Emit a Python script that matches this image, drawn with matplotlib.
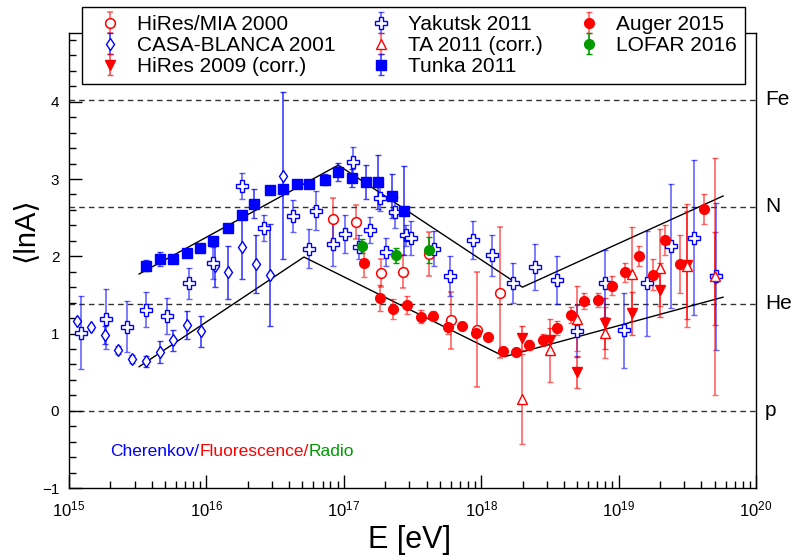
import numpy as np
import matplotlib
matplotlib.use("Agg")
import matplotlib.pyplot as plt
from matplotlib.ticker import MultipleLocator, LogLocator, NullFormatter

plt.rcParams['font.family'] = ['Liberation Sans', 'DejaVu Sans']
plt.rcParams['mathtext.fontset'] = 'custom'
plt.rcParams['mathtext.rm'] = 'Liberation Sans'
plt.rcParams['mathtext.it'] = 'Liberation Sans:italic'

# values, energies as log10(E/eV)
hiresmia_lgE = [16.92, 17.09, 17.27, 17.43, 17.62, 17.78, 17.97, 18.14]
hiresmia_lnA = [2.48, 2.44, 1.78, 1.80, 2.03, 1.17, 1.05, 1.53]
hiresmia_err = [0.28, 0.22, 0.18, 0.21, 0.29, 0.37, 0.74, 0.85]

casa_lgE = [15.06, 15.16, 15.26, 15.36, 15.46, 15.56, 15.66, 15.76,
            15.86, 15.96, 16.06, 16.16, 16.26, 16.36, 16.46, 16.56]
casa_lnA = [1.16, 1.08, 0.98, 0.79, 0.67, 0.64, 0.76, 0.91,
            1.11, 1.03, 1.87, 1.79, 2.12, 1.90, 1.76, 3.04]
casa_err = [0.03, 0.03, 0.12, 0.05, 0.05, 0.07, 0.14, 0.14,
            0.18, 0.20, 0.27, 0.34, 0.42, 0.38, 0.66, 1.08]

hires09_lgE = [18.30, 18.50, 18.70, 18.90, 19.10, 19.30, 19.50, 19.70]
hires09_lnA = [0.94, 0.92, 0.50, 1.13, 1.26, 1.56, 1.89, 1.71]
hires09_err = [0.16, 0.15, 0.21, 0.33, 0.28, 0.35, 0.70, 0.60]

yak_lgE = [15.09, 15.27, 15.42, 15.56, 15.71, 15.87, 16.05, 16.26, 16.42,
           16.63, 16.75, 16.80, 16.92, 17.01, 17.07, 17.11, 17.19, 17.26,
           17.31, 17.37, 17.45, 17.49, 17.66, 17.77, 17.94, 18.08, 18.23,
           18.39, 18.55, 18.70, 18.90, 19.04, 19.21, 19.38, 19.55, 19.71]
yak_lnA = [1.01, 1.19, 1.09, 1.31, 1.23, 1.65, 1.91, 2.91, 2.37,
           2.52, 2.10, 2.59, 2.16, 2.29, 3.22, 2.12, 2.34, 2.75,
           2.06, 2.57, 2.27, 2.23, 2.10, 1.74, 2.21, 2.01, 1.65,
           1.86, 1.69, 1.03, 1.65, 1.04, 1.65, 2.13, 2.24, 1.74]
yak_err = [0.47, 0.39, 0.33, 0.23, 0.23, 0.20, 0.21, 0.17, 0.17,
           0.21, 0.25, 0.25, 0.28, 0.25, 0.20, 0.15, 0.17, 0.17,
           0.18, 0.20, 0.14, 0.22, 0.23, 0.26, 0.25, 0.26, 0.26,
           0.30, 0.31, 0.34, 0.43, 0.49, 0.68, 0.80, 1.00, 0.95]

ta_lgE = [18.30, 18.50, 18.70, 18.90, 19.10, 19.30, 19.50, 19.70]
ta_lnA = [0.15, 0.78, 1.19, 1.01, 1.77, 1.85, 1.88, 1.74]
ta_err = [0.58, 0.41, 0.42, 0.33, 0.61, 0.50, 0.80, 1.53]

tunka_lgE = [15.56, 15.66, 15.76, 15.86, 15.95, 16.05, 16.16, 16.26, 16.35, 16.46,
             16.56, 16.66, 16.75, 16.86, 16.96, 17.06, 17.16, 17.25, 17.35, 17.44]
tunka_lnA = [1.88, 1.97, 1.97, 2.04, 2.11, 2.20, 2.36, 2.54, 2.68, 2.86,
             2.87, 2.94, 2.94, 2.99, 3.09, 3.01, 2.96, 2.96, 2.78, 2.59]
tunka_err = [0.07, 0.09, 0.04, 0.05, 0.05, 0.05, 0.05, 0.05, 0.19, 0.05,
             0.05, 0.05, 0.05, 0.07, 0.12, 0.12, 0.22, 0.35, 0.29, 0.58]

auger_lgE = [17.15, 17.26, 17.36, 17.46, 17.56, 17.65, 17.76, 17.86, 17.96, 18.05,
             18.16, 18.25, 18.35, 18.45, 18.55, 18.65, 18.75, 18.85, 18.95, 19.05,
             19.15, 19.25, 19.34, 19.45, 19.62]
auger_lnA = [1.91, 1.46, 1.32, 1.37, 1.22, 1.23, 1.08, 1.10, 1.01, 0.96,
             0.77, 0.76, 0.85, 0.92, 1.07, 1.24, 1.42, 1.43, 1.62, 1.79,
             2.00, 1.76, 2.21, 1.90, 2.61]
auger_err = [0.18, 0.17, 0.13, 0.12, 0.09, 0.06, 0.08, 0.05, 0.06, 0.05,
             0.06, 0.05, 0.06, 0.08, 0.09, 0.10, 0.10, 0.09, 0.12, 0.12,
             0.13, 0.20, 0.20, 0.37, 0.19]

lofar_lgE = [17.13, 17.38, 17.62]
lofar_lnA = [2.13, 2.01, 2.08]
lofar_err = [0.09, 0.10, 0.17]

# broken-line bands
upper_lgE = [15.51, 16.96, 18.30, 19.76]
upper_lnA = [1.77, 3.18, 1.60, 2.78]
lower_lgE = [15.51, 16.71, 18.17, 19.76]
lower_lnA = [0.57, 1.99, 0.70, 1.47]

# reference nuclei: ln(A)
nuclei = ["Fe", "N", "He", "p"]
nuclei_lnA = [np.log(56), np.log(14), np.log(4), 0.0]

RED = "#ff0000"
BLUE = "#0000ff"
GREEN = "#009a00"

fig = plt.figure(figsize=(7.98, 5.56), dpi=100)
ax = fig.add_axes([69 / 798, 1 - 488 / 556, 687 / 798, 455 / 556])
ax.set_xscale("log")


def E(lg):
    return 10 ** np.array(lg)


for val in nuclei_lnA:
    ax.axhline(val, color="0.2", lw=1.0, ls=(0, (4, 3)), zorder=1)

ax.plot(E(upper_lgE), upper_lnA, color="k", lw=1.0, zorder=2)
ax.plot(E(lower_lgE), lower_lnA, color="k", lw=1.0, zorder=2)

common = dict(linestyle="none", elinewidth=1.2, capsize=2, capthick=1, zorder=3)

h_mia = ax.errorbar(E(hiresmia_lgE), hiresmia_lnA, yerr=hiresmia_err, fmt="o", ms=7,
                    mfc="white", mec=RED, mew=1.1, ecolor=(1, 0, 0, 0.6), **common)
h_casa = ax.errorbar(E(casa_lgE), casa_lnA, yerr=casa_err, fmt="d", ms=6.5,
                     mfc="white", mec=BLUE, mew=1.0, ecolor=(0, 0, 1, 0.75), **common)
h_hr09 = ax.errorbar(E(hires09_lgE), hires09_lnA, yerr=hires09_err, fmt="v", ms=7,
                     mfc=RED, mec=RED, ecolor=(1, 0, 0, 0.7), **common)
h_yak = ax.errorbar(E(yak_lgE), yak_lnA, yerr=yak_err, fmt="P", ms=9,
                    mfc="white", mec=BLUE, mew=1.0, ecolor=(0, 0, 1, 0.6), **common)
h_ta = ax.errorbar(E(ta_lgE), ta_lnA, yerr=ta_err, fmt="^", ms=7.5,
                   mfc="white", mec=RED, mew=1.0, ecolor=(1, 0, 0, 0.6), **common)
h_tunka = ax.errorbar(E(tunka_lgE), tunka_lnA, yerr=tunka_err, fmt="s", ms=6.5,
                      mfc=BLUE, mec=BLUE, ecolor=(0, 0, 1, 0.75), **common)
h_auger = ax.errorbar(E(auger_lgE), auger_lnA, yerr=auger_err, fmt="o", ms=7,
                      mfc=RED, mec=RED, ecolor=(1, 0, 0, 0.6), **common)
h_lofar = ax.errorbar(E(lofar_lgE), lofar_lnA, yerr=lofar_err, fmt="o", ms=7,
                      mfc=GREEN, mec=GREEN, ecolor=GREEN, **common)

ax.set_xlim(1e15, 1e20)
ax.set_ylim(-1, 4.89)
ax.yaxis.set_major_locator(MultipleLocator(1))
ax.yaxis.set_minor_locator(MultipleLocator(0.2))
ax.xaxis.set_major_locator(LogLocator(base=10, numticks=10))
ax.xaxis.set_minor_locator(LogLocator(base=10, subs=np.arange(2, 10), numticks=20))
ax.xaxis.set_minor_formatter(NullFormatter())
ax.tick_params(which="both", direction="in", top=False, right=False, width=1)
ax.tick_params(which="major", length=9.5)
ax.tick_params(which="minor", length=5)
ax.tick_params(axis="x", which="major", labelsize=12, pad=8)
ax.tick_params(axis="y", which="major", labelsize=11, pad=7)
for s in ax.spines.values():
    s.set_linewidth(1.0)

for name, val in zip(nuclei, nuclei_lnA):
    ax.text(1.013, val, name, transform=ax.get_yaxis_transform(),
            fontsize=15, va="center", ha="left")

t1 = ax.text(2.0e15, -0.63, "Cherenkov/", color=BLUE, fontsize=12.5, va="bottom")
t2 = ax.annotate("Fluorescence/", xy=(1, 0), xycoords=t1, color=RED,
                 fontsize=12.5, va="bottom")
ax.annotate("Radio", xy=(1, 0), xycoords=t2, color=GREEN, fontsize=12.5, va="bottom")

fig.text(410 / 798, 1 - 540 / 556, "E [eV]", fontsize=22, ha="center", va="center")
fig.text(25 / 798, 1 - 230 / 556, "\u27e8lnA\u27e9", fontsize=21, rotation=90,
         ha="center", va="center")

handles = [h_mia, h_casa, h_hr09, h_yak, h_ta, h_tunka, h_auger, h_lofar]
labels = ["HiRes/MIA 2000", "CASA-BLANCA 2001", "HiRes 2009 (corr.)",
          "Yakutsk 2011", "TA 2011 (corr.)", "Tunka 2011",
          "Auger 2015", "LOFAR 2016"]
leg = fig.legend(handles, labels, ncol=3, loc="center",
                 bbox_to_anchor=(82 / 798, 1 - 83 / 556, 663 / 798, 75 / 556),
                 mode="expand", borderaxespad=0, fontsize=15, fancybox=False,
                 edgecolor="k", framealpha=1, handlelength=1.9, handletextpad=0.35,
                 borderpad=0.4, labelspacing=0.1)
leg.get_frame().set_linewidth(1.0)

fig.savefig("out.png", dpi=100)
